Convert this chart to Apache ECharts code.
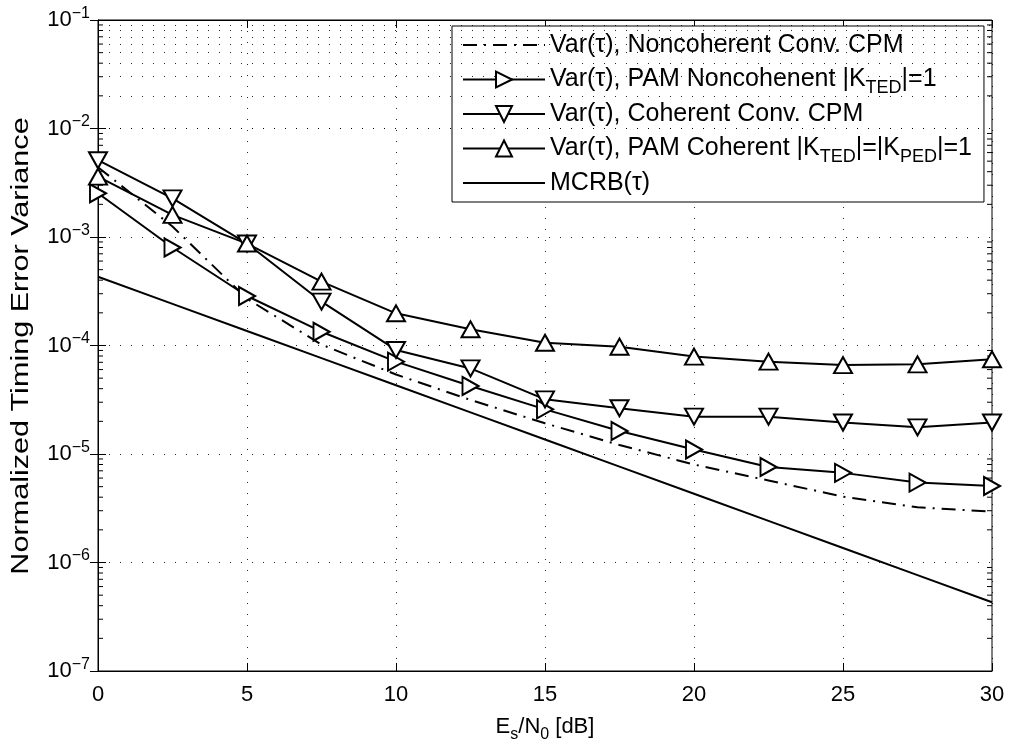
<!DOCTYPE html>
<html><head><meta charset="utf-8">
<script src="https://cdn.jsdelivr.net/npm/echarts@6/dist/echarts.min.js"></script>
<style>html,body{margin:0;padding:0;background:#fff}#c{width:1013px;height:749px}</style>
</head><body><div id="c"></div>
<script>
// ---- data ----
const snrDb = [0, 2.5, 5, 7.5, 10, 12.5, 15, 17.5, 20, 22.5, 25, 27.5, 30];
const varNoncohConv = [4.4e-3, 1.25e-3, 2.7e-4, 1.02e-4, 5.4e-5, 3.15e-5, 1.92e-5, 1.21e-5, 8.0e-6, 5.7e-6, 4.05e-6, 3.23e-6, 2.94e-6];
const varPamNoncoh  = [2.53e-3, 8.0e-4, 2.86e-4, 1.34e-4, 7.1e-5, 4.24e-5, 2.58e-5, 1.63e-5, 1.1e-5, 7.6e-6, 6.7e-6, 5.45e-6, 5.07e-6];
const varCohConv    = [5.1e-3, 2.27e-3, 8.7e-4, 2.54e-4, 9.1e-5, 6.15e-5, 3.19e-5, 2.64e-5, 2.21e-5, 2.21e-5, 1.95e-5, 1.76e-5, 1.95e-5];
const varPamCoh     = [3.6e-3, 1.6e-3, 8.7e-4, 3.88e-4, 1.98e-4, 1.41e-4, 1.06e-4, 9.75e-5, 7.9e-5, 7.1e-5, 6.6e-5, 6.7e-5, 7.46e-5];
const mcrb          = [4.3e-4, 2.42e-4, 1.36e-4, 7.65e-5, 4.3e-5, 2.42e-5, 1.36e-5, 7.65e-6, 4.3e-6, 2.42e-6, 1.36e-6, 7.65e-7, 4.3e-7];
const seriesNames = [
  'Var(τ), Noncoherent Conv. CPM',
  'Var(τ), PAM Noncohenent |KTED|=1',
  'Var(τ), Coherent Conv. CPM',
  'Var(τ), PAM Coherent |KTED|=|KPED|=1',
  'MCRB(τ)'
];
const legendRich = {
  'Var(τ), Noncoherent Conv. CPM': 'Var(τ), Noncoherent Conv. CPM',
  'Var(τ), PAM Noncohenent |KTED|=1': 'Var(τ), PAM Noncohenent |K{sub|TED}|=1',
  'Var(τ), Coherent Conv. CPM': 'Var(τ), Coherent Conv. CPM',
  'Var(τ), PAM Coherent |KTED|=|KPED|=1': 'Var(τ), PAM Coherent |K{sub|TED}|=|K{sub|PED}|=1',
  'MCRB(τ)': 'MCRB(τ)'
};
const yTitle = 'Normalized Timing Error Variance';
const xMin = 0, xMax = 30, xStep = 5;
const yDecadeMin = -7, yDecadeMax = -1;
const minorMultipliers = [2, 3, 4, 5, 6, 7, 8, 9];

// ---- build ----
const FONT = '"Liberation Sans", Arial, Helvetica, sans-serif';
const dotted = { type: [1, 10], color: '#000', width: 1, opacity: 0.85 };
const minorValues = [];
for (let d = yDecadeMin; d < yDecadeMax; d++) {
  for (const m of minorMultipliers) minorValues.push(+(m * Math.pow(10, d)).toPrecision(3));
}
const pairs = arr => snrDb.map((x, i) => [x, arr[i]]);
const markerStyle = { color: '#fff', borderColor: '#000', borderWidth: 2 };
const noMarker = { color: 'rgba(0,0,0,0)', borderWidth: 0 };
const subStyle = { fontFamily: FONT, fontSize: 18, padding: [17, 0, 0, 0], color: '#000', lineHeight: 26 };

const chart = echarts.init(document.getElementById('c'), null, { renderer: 'canvas' });
chart.setOption({
  animation: false,
  backgroundColor: '#fff',
  grid: { left: 98, right: 21, top: 20, bottom: 78, show: true, borderColor: '#000', borderWidth: 1, backgroundColor: 'transparent' },
  legend: {
    orient: 'vertical', left: 452, top: 26,
    backgroundColor: '#fff', borderColor: '#000', borderWidth: 1,
    padding: [6, 12, 6, 10], itemGap: 4, itemWidth: 82, itemHeight: 20,
    data: seriesNames,
    formatter: n => legendRich[n],
    textStyle: { fontFamily: FONT, fontSize: 25, color: '#000', lineHeight: 26, rich: { sub: subStyle } }
  },
  graphic: [{
    type: 'text', x: 22, y: 346, rotation: Math.PI / 2, scaleX: 1.33, silent: true,
    style: { text: yTitle, font: '23px ' + FONT, fill: '#000', align: 'center', verticalAlign: 'middle' }
  }],
  xAxis: [{
    type: 'value', min: xMin, max: xMax, interval: xStep,
    axisLine: { lineStyle: { color: '#000', width: 1 } },
    axisTick: { inside: true, length: 8, lineStyle: { color: '#000' } },
    axisLabel: { fontFamily: FONT, fontSize: 22, color: '#000', margin: 13 },
    splitLine: { show: true, lineStyle: dotted },
    name: 'E{sub|s}/N{sub|0} [dB]', nameLocation: 'middle', nameGap: 40,
    nameTextStyle: { fontFamily: FONT, fontSize: 22, color: '#000', lineHeight: 28,
      rich: { sub: { fontFamily: FONT, fontSize: 16, padding: [16, 0, 0, 0], color: '#000', lineHeight: 28 } } }
  }, {
    type: 'value', position: 'top', min: xMin, max: xMax, interval: xStep,
    axisLine: { lineStyle: { color: '#000' } },
    axisTick: { inside: true, length: 8, lineStyle: { color: '#000' } },
    axisLabel: { show: false }, splitLine: { show: false }
  }],
  yAxis: [{
    type: 'log', logBase: 10, min: Math.pow(10, yDecadeMin), max: Math.pow(10, yDecadeMax), splitNumber: 6,
    axisLine: { lineStyle: { color: '#000' } },
    axisTick: { inside: true, length: 8, lineStyle: { color: '#000' } },
    axisLabel: {
      margin: 8,
      formatter: v => '{b|10}{s|−' + Math.round(-Math.log10(v)) + '}',
      rich: {
        b: { fontFamily: FONT, fontSize: 22, color: '#000' },
        s: { fontFamily: FONT, fontSize: 16, color: '#000', padding: [0, 0, 13, 0] }
      }
    },
    splitLine: { show: true, lineStyle: dotted }
  }, {
    type: 'log', logBase: 10, position: 'right', min: Math.pow(10, yDecadeMin), max: Math.pow(10, yDecadeMax), splitNumber: 6,
    axisLine: { lineStyle: { color: '#000' } },
    axisTick: { inside: true, length: 8, lineStyle: { color: '#000' } },
    axisLabel: { show: false }, splitLine: { show: false }
  }],
  series: [
    {
      name: seriesNames[0], type: 'line', data: pairs(varNoncohConv), showSymbol: false, symbol: 'circle', symbolSize: 0,
      lineStyle: { color: '#000', width: 2, type: [14, 7, 2, 7] }, itemStyle: noMarker, z: 3
    },
    {
      name: seriesNames[1], type: 'line', data: pairs(varPamNoncoh), symbol: 'triangle', symbolSize: [18, 16], symbolRotate: -90,
      lineStyle: { color: '#000', width: 2 }, itemStyle: markerStyle, z: 4
    },
    {
      name: seriesNames[2], type: 'line', data: pairs(varCohConv), symbol: 'triangle', symbolSize: [18, 16], symbolRotate: 180,
      lineStyle: { color: '#000', width: 2 }, itemStyle: markerStyle, z: 4
    },
    {
      name: seriesNames[3], type: 'line', data: pairs(varPamCoh), symbol: 'triangle', symbolSize: [18, 16],
      lineStyle: { color: '#000', width: 2 }, itemStyle: markerStyle, z: 4
    },
    {
      name: seriesNames[4], type: 'line', data: pairs(mcrb), showSymbol: false, symbol: 'circle', symbolSize: 0,
      lineStyle: { color: '#000', width: 2 }, itemStyle: noMarker, z: 3,
      markLine: { silent: true, symbol: 'none', label: { show: false }, animation: false,
        lineStyle: dotted, emphasis: { disabled: true }, data: minorValues.map(v => ({ yAxis: v })) }
    },
    {
      // minor ticks of the log axis, on the left and right frame
      type: 'custom', silent: true, z: 2, data: minorValues.map(v => [v]),
      renderItem: (params, api) => {
        const v = api.value(0);
        const l = api.coord([xMin, v]);
        const r = api.coord([xMax, v]);
        const st = { stroke: '#000', lineWidth: 1 };
        return { type: 'group', children: [
          { type: 'line', shape: { x1: l[0], y1: l[1], x2: l[0] + 5, y2: l[1] }, style: st },
          { type: 'line', shape: { x1: r[0], y1: r[1], x2: r[0] - 5, y2: r[1] }, style: st }
        ] };
      }
    }
  ]
});
</script></body></html>
